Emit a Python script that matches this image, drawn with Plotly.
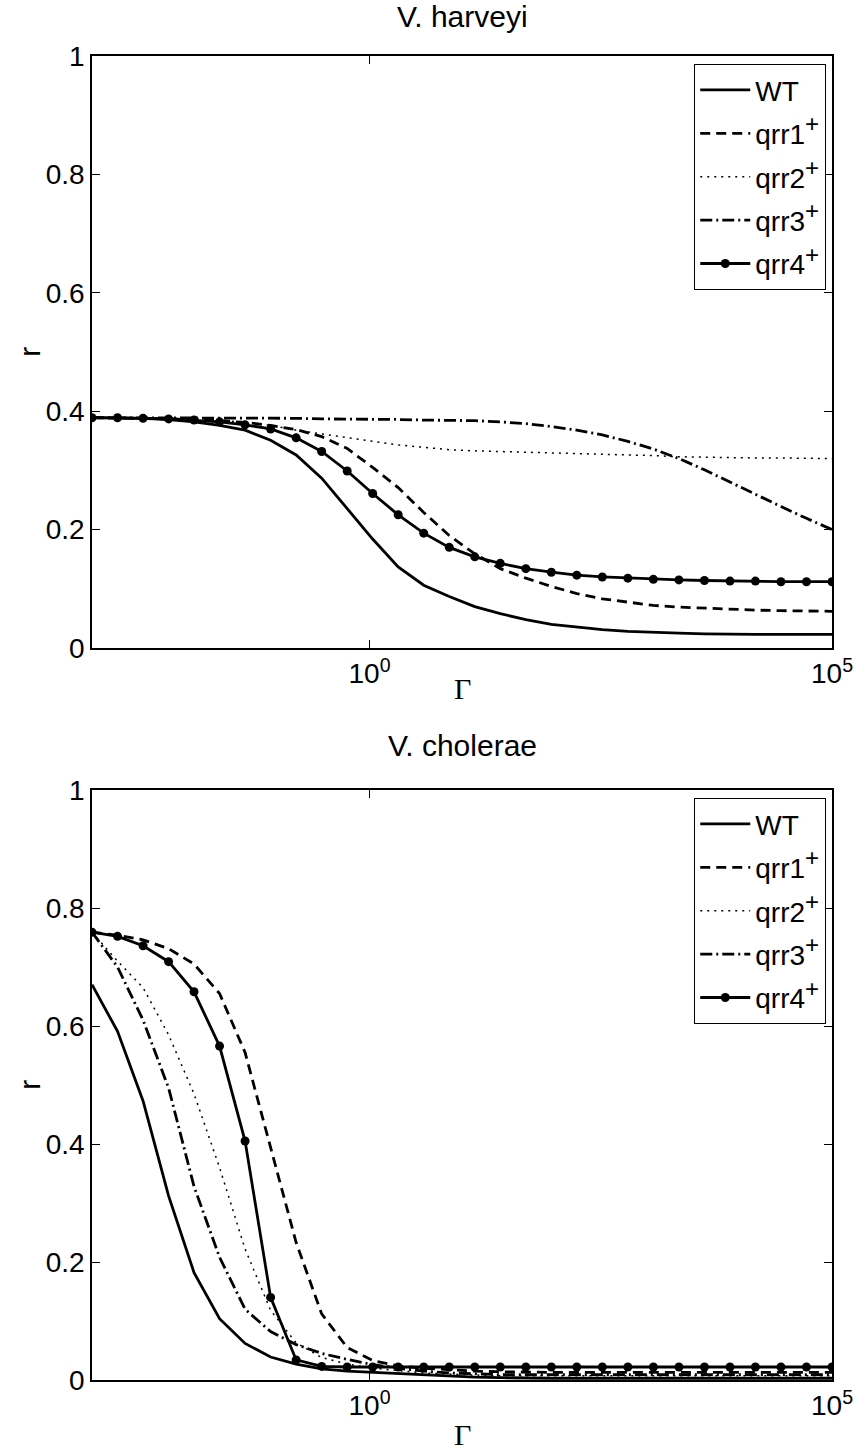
import plotly.graph_objects as go

# Sample grid: exponents of Gamma (log10)
gamma_exp = [-3.000, -2.724, -2.448, -2.172, -1.897, -1.621, -1.345, -1.069, -0.793, -0.517,
             -0.241, 0.034, 0.310, 0.586, 0.862, 1.138, 1.414, 1.690, 1.966, 2.241,
             2.517, 2.793, 3.069, 3.345, 3.621, 3.897, 4.172, 4.448, 4.724, 5.000]
gamma = [10 ** e for e in gamma_exp]

SUP = '<sup><span style="font-size:24px">+</span></sup>'
series_names = ["WT", "qrr1" + SUP, "qrr2" + SUP, "qrr3" + SUP, "qrr4" + SUP]

# V. harveyi
harveyi_WT = [0.389, 0.389, 0.388, 0.386, 0.382, 0.376, 0.368, 0.351, 0.326, 0.287,
              0.236, 0.184, 0.137, 0.106, 0.087, 0.070, 0.058, 0.048, 0.040, 0.035,
              0.031, 0.028, 0.026, 0.025, 0.024, 0.023, 0.023, 0.023, 0.023, 0.023]
harveyi_qrr1 = [0.389, 0.389, 0.388, 0.387, 0.386, 0.384, 0.381, 0.376, 0.369, 0.357,
                0.337, 0.305, 0.271, 0.229, 0.190, 0.159, 0.134, 0.118, 0.104, 0.092,
                0.083, 0.077, 0.072, 0.069, 0.067, 0.065, 0.064, 0.063, 0.063, 0.062]
harveyi_qrr2 = [0.389, 0.389, 0.388, 0.388, 0.387, 0.385, 0.381, 0.376, 0.368, 0.362,
                0.356, 0.349, 0.343, 0.339, 0.335, 0.333, 0.332, 0.331, 0.330, 0.329,
                0.328, 0.326, 0.325, 0.323, 0.322, 0.322, 0.321, 0.321, 0.320, 0.320]
harveyi_qrr3 = [0.389, 0.389, 0.389, 0.389, 0.389, 0.388, 0.388, 0.388, 0.388, 0.387,
                0.387, 0.386, 0.386, 0.385, 0.385, 0.384, 0.382, 0.379, 0.374, 0.368,
                0.360, 0.349, 0.336, 0.320, 0.301, 0.280, 0.259, 0.239, 0.219, 0.200]
harveyi_qrr4 = [0.389, 0.389, 0.388, 0.387, 0.385, 0.382, 0.377, 0.370, 0.355, 0.332,
                0.299, 0.261, 0.225, 0.194, 0.170, 0.154, 0.143, 0.134, 0.128, 0.123,
                0.120, 0.118, 0.116, 0.115, 0.114, 0.113, 0.113, 0.112, 0.112, 0.112]

# V. cholerae
cholerae_WT = [0.670, 0.591, 0.473, 0.312, 0.182, 0.104, 0.062, 0.039, 0.027, 0.019,
               0.015, 0.013, 0.010, 0.008, 0.006, 0.005, 0.004, 0.003, 0.003, 0.003,
               0.003, 0.003, 0.003, 0.003, 0.003, 0.003, 0.003, 0.003, 0.003, 0.003]
cholerae_qrr1 = [0.759, 0.754, 0.746, 0.731, 0.705, 0.655, 0.555, 0.395, 0.233, 0.112,
                 0.055, 0.033, 0.024, 0.020, 0.017, 0.015, 0.014, 0.013, 0.013, 0.013,
                 0.013, 0.013, 0.013, 0.013, 0.013, 0.013, 0.013, 0.013, 0.013, 0.013]
cholerae_qrr2 = [0.759, 0.710, 0.665, 0.585, 0.485, 0.360, 0.222, 0.118, 0.063, 0.038,
                 0.027, 0.020, 0.016, 0.012, 0.010, 0.008, 0.007, 0.007, 0.007, 0.007,
                 0.007, 0.007, 0.007, 0.007, 0.007, 0.007, 0.007, 0.007, 0.007, 0.007]
cholerae_qrr3 = [0.759, 0.700, 0.610, 0.495, 0.328, 0.208, 0.120, 0.082, 0.060, 0.045,
                 0.035, 0.026, 0.020, 0.015, 0.012, 0.010, 0.009, 0.009, 0.009, 0.009,
                 0.009, 0.009, 0.009, 0.009, 0.009, 0.009, 0.009, 0.009, 0.009, 0.009]
cholerae_qrr4 = [0.759, 0.752, 0.736, 0.709, 0.658, 0.566, 0.405, 0.140, 0.034, 0.023,
                 0.022, 0.022, 0.022, 0.022, 0.022, 0.022, 0.022, 0.022, 0.022, 0.022,
                 0.022, 0.022, 0.022, 0.022, 0.022, 0.022, 0.022, 0.022, 0.022, 0.022]

y_ticks = [0, 0.2, 0.4, 0.6, 0.8, 1]
y_ticktext = ["0", "0.2", "0.4", "0.6", "0.8", "1"]
x_ticks = [1, 1e5]
x_ticktext = ["10<sup>0</sup>", "10<sup>5</sup>"]

FONT = "Liberation Sans Narrow, Liberation Sans, Arial, sans-serif"
SERIF = "Liberation Serif, Times New Roman, serif"

styles = [
    dict(mode="lines", line=dict(color="black", width=2.8, dash="solid")),
    dict(mode="lines", line=dict(color="black", width=2.8, dash="10px,6px")),
    dict(mode="lines", line=dict(color="black", width=1.5, dash="2px,5px")),
    dict(mode="lines", line=dict(color="black", width=2.8, dash="12px,4px,2px,4px")),
    dict(mode="lines+markers", line=dict(color="black", width=2.8, dash="solid"),
         marker=dict(symbol="circle", size=9, color="black")),
]

fig = go.Figure()
panels = [
    ("x", "y", "legend", "h", [harveyi_WT, harveyi_qrr1, harveyi_qrr2, harveyi_qrr3, harveyi_qrr4]),
    ("x2", "y2", "legend2", "c", [cholerae_WT, cholerae_qrr1, cholerae_qrr2, cholerae_qrr3, cholerae_qrr4]),
]
for xa, ya, lg, tag, data in panels:
    for name, vals, st in zip(series_names, data, styles):
        fig.add_trace(go.Scatter(x=gamma, y=vals, name=name, xaxis=xa, yaxis=ya,
                                 legend=lg, legendgroup=tag + name, **st))

W, H = 865, 1452
ml, mr, mt, mb = 92, 25, 56, 72
ph = H - mt - mb

def py(p):
    return (H - mb - p) / ph

def px(p):
    return (p - ml) / (W - ml - mr)

axis_common = dict(showgrid=False, zeroline=False, showline=True, linecolor="black",
                   linewidth=1.5, mirror="ticks", ticks="inside", ticklen=8,
                   tickwidth=1, tickcolor="black",
                   tickfont=dict(family=FONT, size=28, color="black"))

xcommon = dict(axis_common, type="log", range=[-3, 5], tickvals=x_ticks, ticktext=x_ticktext)
ycommon = dict(axis_common, range=[0, 1], tickvals=y_ticks, ticktext=y_ticktext)

legend_common = dict(bgcolor="white", bordercolor="black", borderwidth=1.2,
                     font=dict(family=FONT, size=28, color="black"),
                     xanchor="right", yanchor="top", tracegroupgap=4,
                     itemwidth=50, itemclick=False)

fig.update_layout(
    width=W, height=H,
    margin=dict(l=ml, r=mr, t=mt, b=mb),
    paper_bgcolor="white", plot_bgcolor="white",
    showlegend=True,
    xaxis=dict(xcommon, domain=[0, 1], anchor="y"),
    yaxis=dict(ycommon, domain=[py(648), 1.0], anchor="x"),
    xaxis2=dict(xcommon, domain=[0, 1], anchor="y2"),
    yaxis2=dict(ycommon, domain=[0, py(790)], anchor="x2"),
    legend=dict(legend_common, x=px(834), y=py(64)),
    legend2=dict(legend_common, x=px(834), y=py(798)),
    annotations=[
        dict(text="V. harveyi", x=0.5, y=py(16), xref="paper", yref="paper",
             showarrow=False, font=dict(family=FONT, size=30, color="black"), yanchor="middle"),
        dict(text="V. cholerae", x=0.5, y=py(746), xref="paper", yref="paper",
             showarrow=False, font=dict(family=FONT, size=30, color="black"), yanchor="middle"),
        dict(text="Γ", x=0.5, y=py(688), xref="paper", yref="paper",
             showarrow=False, font=dict(family=SERIF, size=30, color="black"), yanchor="middle"),
        dict(text="Γ", x=0.5, y=py(1434), xref="paper", yref="paper",
             showarrow=False, font=dict(family=SERIF, size=30, color="black"), yanchor="middle"),
        dict(text="r", x=px(28), y=py(352), xref="paper", yref="paper", textangle=-90,
             showarrow=False, font=dict(family=FONT, size=30, color="black"),
             xanchor="center", yanchor="middle"),
        dict(text="r", x=px(28), y=py(1085), xref="paper", yref="paper", textangle=-90,
             showarrow=False, font=dict(family=FONT, size=30, color="black"),
             xanchor="center", yanchor="middle"),
    ],
)

fig.write_html("out.html")
